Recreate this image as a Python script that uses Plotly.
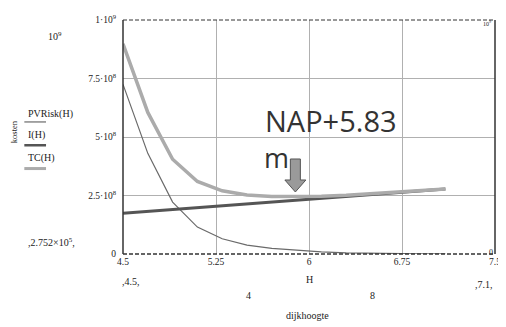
import plotly.graph_objects as go

# ---- data ----
H = [4.5, 4.7, 4.9, 5.1, 5.3, 5.5, 5.7, 5.9, 6.1, 6.3, 6.5, 6.7, 6.9, 7.1]
PVRisk = [7.25e8, 4.30e8, 2.22e8, 1.15e8, 6.5e7, 3.8e7, 2.4e7, 1.5e7, 9e6, 5e6, 3e6, 2e6, 1e6, 5e5]
I_H = [1.74e8, 1.82e8, 1.90e8, 1.98e8, 2.06e8, 2.14e8, 2.22e8, 2.30e8, 2.38e8, 2.46e8, 2.54e8, 2.62e8, 2.70e8, 2.78e8]
TC = [8.98e8, 6.05e8, 4.05e8, 3.10e8, 2.70e8, 2.52e8, 2.46e8, 2.45e8, 2.47e8, 2.51e8, 2.57e8, 2.64e8, 2.71e8, 2.78e8]

x_ticks = [4.5, 5.25, 6, 6.75, 7.5]
x_ticktext = ["4.5", "5.25", "6", "6.75", "7.5"]
y_ticks = [0, 2.5e8, 5e8, 7.5e8, 1e9]
y_ticktext = ["0", "2.5·10<sup>8</sup>", "5·10<sup>8</sup>", "7.5·10<sup>8</sup>", "1·10<sup>9</sup>"]
optimum_H = 5.89
optimum_label = "NAP+5.83"

# ---- layout geometry (page pixels; the page has an 8px body margin) ----
OFF = 8
W, HGT = 506 - OFF, 327 - OFF
L, R, T, B = 123, 500, 13, 254


def px(x):
    return (x - L) / (R - L)


def py(y):
    return (B - y) / (B - T)


SERIF = "Liberation Serif"
TXT = "#222222"
FS = 10

fig = go.Figure()
fig.add_trace(go.Scatter(x=H, y=PVRisk, mode="lines", name="PVRisk(H)",
                         line=dict(color="#6a6a6a", width=1.2)))
fig.add_trace(go.Scatter(x=H, y=I_H, mode="lines", name="I(H)",
                         line=dict(color="#555555", width=3)))
fig.add_trace(go.Scatter(x=H, y=TC, mode="lines", name="TC(H)",
                         line=dict(color="#ababab", width=3.5)))

fig.update_layout(
    width=W, height=HGT,
    margin=dict(l=L - OFF, r=506 - R, t=T - OFF, b=327 - B),
    paper_bgcolor="white", plot_bgcolor="white",
    showlegend=False,
    font=dict(family=SERIF, size=FS, color=TXT),
)
fig.update_xaxes(range=[4.5, 7.5], tickvals=x_ticks, ticktext=x_ticktext,
                 showgrid=True, gridcolor="#b0b0b0", gridwidth=1,
                 zeroline=False, showline=False, ticks="",
                 ticklabeloverflow="allow",
                 tickfont=dict(family=SERIF, size=9.5, color=TXT))
fig.update_yaxes(range=[0, 1e9], tickvals=y_ticks, ticktext=y_ticktext,
                 showgrid=True, gridcolor="#b0b0b0", gridwidth=1,
                 zeroline=False, showline=False, ticks="",
                 ticklabelstandoff=6, ticklabeloverflow="allow",
                 tickfont=dict(family=SERIF, size=9.5, color=TXT))

shapes = []
# frame
shapes.append(dict(type="line", xref="paper", yref="paper", x0=0, x1=0, y0=0, y1=1,
                   line=dict(color="#333333", width=1.5)))
shapes.append(dict(type="line", xref="paper", yref="paper", x0=1, x1=1, y0=0, y1=1,
                   line=dict(color="#333333", width=1.5)))
shapes.append(dict(type="line", xref="paper", yref="paper", x0=0, x1=1, y0=1, y1=1,
                   line=dict(color="#333333", width=1, dash="4px,2px")))
shapes.append(dict(type="line", xref="paper", yref="paper", x0=0, x1=1, y0=0, y1=0,
                   line=dict(color="#333333", width=1.5, dash="4px,2px")))
# legend sample lines on the left
for yy, col, wd in [(118, "#6a6a6a", 1.2), (142, "#555555", 2.5), (166, "#ababab", 3)]:
    shapes.append(dict(type="line", xref="paper", yref="paper",
                       x0=px(23), x1=px(45), y0=py(yy), y1=py(yy),
                       line=dict(color=col, width=wd)))
# block arrow pointing at optimum
shapes.append(dict(type="path", xref="x", yref="y",
                   xsizemode="pixel", ysizemode="pixel",
                   xanchor=optimum_H, yanchor=2.65e8,
                   path="M -5,33 L 5,33 L 5,12 L 10.5,12 L 0,0 L -10.5,12 L -5,12 Z",
                   fillcolor="#9a9a9a", line=dict(color="#555555", width=1)))
fig.update_layout(shapes=shapes)

ann = []


def text(x, y, s, size=FS, xanchor="center", angle=0, family=SERIF, color=TXT):
    ann.append(dict(x=px(x), y=py(y), xref="paper", yref="paper", text=s,
                    showarrow=False, xanchor=xanchor, yanchor="middle",
                    textangle=angle, font=dict(family=family, size=size, color=color)))


text(54, 29, "10<sup>9</sup>")
text(25, 110, "PVRisk(H)", xanchor="left")
text(25, 131, "I(H)", xanchor="left")
text(25, 155, "TC(H)", xanchor="left")
text(12, 128, "kosten", size=8.5, angle=-90)
text(25, 242, ",2.752×10<sup>5</sup>,", xanchor="left")
text(492, 16, "10<sup>9</sup>", size=6)
text(496, 252, "0", size=8)
text(131, 282, ",4.5,")
text(312, 280, "H")
text(489, 285, ",7.1,")
text(250, 297, "4")
text(376, 297, "8")
text(310, 317, "dijkhoogte")
text(265, 117, optimum_label, size=29, xanchor="left", family="Open Sans", color="#333333")
text(264, 155, "m", size=27, xanchor="left", family="Open Sans", color="#333333")
fig.update_layout(annotations=ann)

fig.write_html("out.html")
